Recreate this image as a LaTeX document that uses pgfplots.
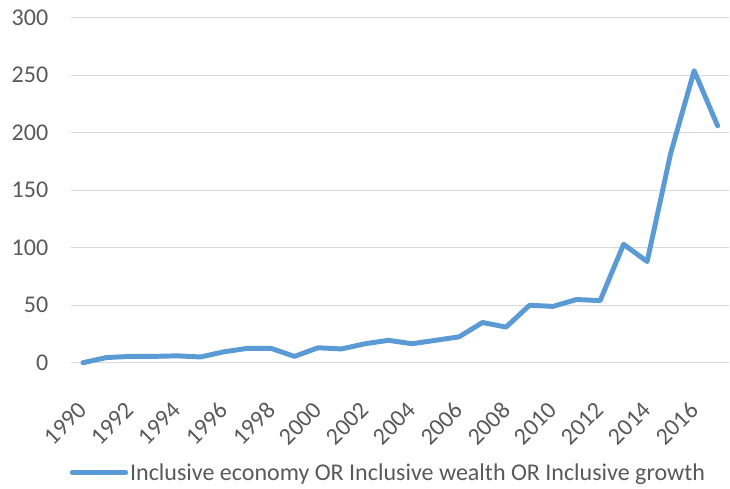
\documentclass[border=0pt]{standalone}
\usepackage{pgfplots}
\pgfplotsset{compat=1.18}
\usepackage{fontspec}
\setmainfont{Carlito}
\definecolor{lineblue}{HTML}{5B9BD5}
\definecolor{txtgray}{HTML}{595959}
\definecolor{gridgray}{HTML}{D9D9D9}
\begin{document}
\begin{tikzpicture}
\begin{axis}[
  name=main,
  scale only axis,
  width=666pt, height=349pt,
  xmin=1989.5, xmax=2017.5,
  ymin=0, ymax=300,
  ytick={0,50,100,150,200,250,300},
  xtick={1990,1992,...,2016},
  font=\fontsize{24.3}{29}\selectfont,
  /pgf/number format/assume math mode=true,
  /pgf/number format/1000 sep={},
  ticklabel style={text=txtgray, inner sep=0pt},
  xticklabel style={xshift=-6pt, yshift=-38pt, rotate=45, anchor=north east},
  yticklabel style={anchor=east, xshift=-23pt},
  major tick length=0pt,
  axis line style={draw=none},
  ymajorgrids,
  grid style={gridgray, line width=1.2pt},
  clip=false,
  legend style={draw=none, fill=none, at={(rel axis cs:0.482,-0.318)}, anchor=center, text=txtgray, font=\fontsize{24.3}{29}\selectfont, inner sep=0pt},
  legend image code/.code={\draw[#1] (0pt,0pt) -- (54pt,0pt);},
]
\addplot[lineblue, line width=5pt, line join=round, line cap=round] coordinates {
(1990,0) (1991,4.5) (1992,5.5) (1993,5.5) (1994,6) (1995,5) (1996,9.5) (1997,12.5) (1998,12.5) (1999,5.5)
(2000,13) (2001,12) (2002,16.5) (2003,19.5) (2004,16.5) (2005,19.5) (2006,22.5) (2007,35) (2008,31)
(2009,50) (2010,49) (2011,55) (2012,54) (2013,103) (2014,88) (2015,182) (2016,254) (2017,206)
};
\addlegendentry{Inclusive economy OR Inclusive wealth OR Inclusive growth}
\end{axis}
\path (main.south west) ++(-72pt,-127pt) rectangle ++(730pt,494pt);
\end{tikzpicture}
\end{document}
